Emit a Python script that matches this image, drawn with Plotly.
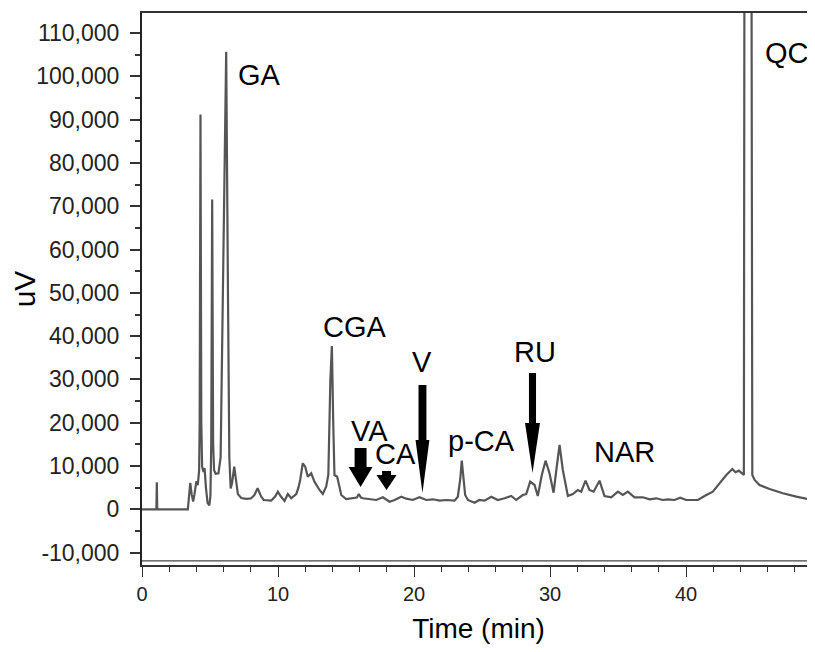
import plotly.graph_objects as go

# ---- chromatogram data (time in min, signal in uV) ----
time_min = [
    0.0, 1.06, 1.09, 1.12, 3.37, 3.45, 3.55, 3.65, 3.76, 3.86, 4.00, 4.10, 4.20,
    4.24, 4.30, 4.36, 4.42, 4.52, 4.60, 4.70, 4.82, 4.95, 5.03, 5.09, 5.16, 5.23,
    5.30, 5.42, 5.62, 5.78, 5.90, 6.19, 6.32, 6.42, 6.52, 6.62, 6.78, 6.90, 7.05,
    7.30, 7.66, 8.00, 8.25, 8.50, 8.75, 8.95, 9.50, 9.80, 9.99, 10.20, 10.48,
    10.72, 10.97, 11.34, 11.50, 11.63, 11.82, 12.00, 12.19, 12.44, 12.68, 13.05,
    13.29, 13.54, 13.70, 13.85, 13.96, 14.06, 14.15, 14.35, 14.50, 14.65, 15.01,
    15.50, 15.80, 15.94, 16.10, 16.24, 16.73, 17.22, 17.71, 18.20, 18.57, 19.06,
    19.43, 19.91, 20.40, 20.90, 21.38, 21.88, 22.37, 22.98, 23.22, 23.40, 23.51,
    23.62, 23.76, 23.96, 24.20, 24.45, 24.80, 25.18, 25.68, 26.16, 26.65, 27.15,
    27.51, 28.00, 28.25, 28.54, 28.86, 29.10, 29.40, 29.67, 29.96, 30.26, 30.50,
    30.70, 30.94, 31.31, 31.68, 32.04, 32.29, 32.61, 32.90, 33.20, 33.64, 34.00,
    34.50, 34.99, 35.35, 35.72, 36.21, 36.82, 37.32, 37.81, 38.29, 38.66, 39.15,
    39.57, 40.01, 40.87, 41.36, 41.97, 42.46, 42.96, 43.40, 43.64, 43.88, 44.18,
    44.25, 44.30, 44.55, 44.80, 44.87, 45.04, 45.40, 46.14, 47.12, 48.10, 49.50,
]
signal_uv = [
    0, 0, 6240, 0, 0, 3800, 6100, 3500, 1800, 3500, 6500, 5600, 9000,
    20000, 91220, 20000, 9840, 8600, 9500, 5000, 1500, 900, 3000, 15000, 71590, 15000,
    9000, 8200, 8300, 12000, 40000, 105680, 50000, 12000, 4800, 6000, 9840, 7000, 3500,
    2600, 2400, 2500, 3200, 4850, 3000, 2150, 2000, 3000, 4070, 3000, 1920,
    3530, 2540, 3530, 5000, 6770, 10630, 9840, 7530, 8320, 6380, 4460,
    3530, 5220, 8000, 30000, 37720, 20000, 7920, 7530, 5000, 3300, 2380,
    2540, 2700, 3530, 2700, 2540, 2310, 2150, 2770, 1760, 2150, 2910,
    2450, 2150, 2770, 2150, 2310, 1990, 2150, 1990, 2910, 7000, 11230,
    7000, 3300, 2150, 1760, 1530, 2150, 1990, 2910, 2150, 2540, 3070,
    2150, 3300, 3530, 6380, 5610, 3070, 8000, 11230, 8320, 3840, 10000,
    14850, 9080, 3070, 3530, 4460, 4070, 6610, 4460, 4070, 6610, 3070,
    2770, 4070, 3300, 4070, 2770, 2770, 2310, 2540, 2150, 2310, 2150,
    2680, 2150, 2150, 3070, 4070, 6000, 7920, 9310, 8550, 8920, 7920,
    7920, 150000, 300000, 150000, 7920, 6770, 5610, 4690, 3700, 2910, 1990,
]

# ---- peak labels ----
peak_labels = ["GA", "CGA", "VA", "CA", "V", "p-CA", "RU", "NAR", "QC"]
label_x = [8.64, 15.66, 16.73, 18.64, 20.62, 24.96, 28.90, 35.48, 47.43]
label_y = [100320, 42110, 18090, 12770, 34030, 15780, 36340, 13240, 105400]

# ---- arrows: centre (min), tip, neck, tail (uV), shaft/head half-width (min) ----
arrow_x = [16.07, 17.98, 20.62, 28.71]
arrow_tip = [5150, 4460, 3770, 8380]
arrow_neck = [9770, 7920, 16000, 19930]
arrow_tail = [14160, 8850, 28700, 31500]
arrow_shaft = [0.44, 0.33, 0.29, 0.26]
arrow_head = [0.88, 0.74, 0.51, 0.55]

# ---- axis ticks ----
x_ticks = [0, 10, 20, 30, 40]
y_ticks = [-10000, 0, 10000, 20000, 30000, 40000, 50000, 60000, 70000, 80000,
           90000, 100000, 110000]
y_ticktext = ["-10,000", "0", "10,000", "20,000", "30,000", "40,000", "50,000",
              "60,000", "70,000", "80,000", "90,000", "100,000", "110,000"]

FONT = "Liberation Sans, Arial, Helvetica, sans-serif"
NARROW = "Liberation Sans Narrow, Arial Narrow, Liberation Sans, Arial, sans-serif"

fig = go.Figure()
fig.add_trace(go.Scatter(
    x=time_min, y=signal_uv, mode="lines",
    line=dict(color="#555555", width=2.2),
    showlegend=False, hoverinfo="skip",
))

shapes = []
for x, tip, neck, tail, s, h in zip(arrow_x, arrow_tip, arrow_neck, arrow_tail,
                                     arrow_shaft, arrow_head):
    path = (f"M {x - s},{tail} L {x + s},{tail} L {x + s},{neck} L {x + h},{neck} "
            f"L {x},{tip} L {x - h},{neck} L {x - s},{neck} Z")
    shapes.append(dict(type="path", path=path, xref="x", yref="y",
                       fillcolor="black", line=dict(width=0)))

# second line of the doubled bottom border
shapes.append(dict(type="line", xref="paper", yref="y", x0=0, x1=1,
                   y0=-11940, y1=-11940, line=dict(color="#444", width=1.2)))

annotations = []
for txt, x, y in zip(peak_labels, label_x, label_y):
    annotations.append(dict(x=x, y=y, xref="x", yref="y", text=txt,
                            showarrow=False, font=dict(family=FONT, size=29,
                                                       color="black")))

# the page body has an 8px margin, so the figure is sized/offset to compensate
fig.update_layout(
    width=807, height=636,
    margin=dict(l=134, r=0, t=5, b=79),
    plot_bgcolor="white", paper_bgcolor="white",
    shapes=shapes, annotations=annotations,
    xaxis=dict(
        range=[0, 49.48], showgrid=False, zeroline=False,
        showline=True, linecolor="#333", linewidth=1.5, mirror=True,
        ticks="outside", ticklen=10, tickwidth=1.2, tickcolor="#333",
        tickvals=x_ticks, ticktext=[str(v) for v in x_ticks],
        tickfont=dict(family=NARROW, size=20, color="#222"),
        minor=dict(ticks="outside", ticklen=5, tickwidth=1.2, tickcolor="#333",
                   dtick=2, tick0=0, showgrid=False),
        title=dict(text="Time (min)", standoff=22,
                   font=dict(family=FONT, size=28, color="black")),
        automargin=False,
    ),
    yaxis=dict(
        range=[-12870, 114650], showgrid=False, zeroline=False,
        showline=True, linecolor="#222", linewidth=2,
        ticks="outside", ticklen=10, tickwidth=1.5, tickcolor="#333",
        tickvals=y_ticks, ticktext=y_ticktext, ticklabelstandoff=6,
        tickfont=dict(family=FONT, size=23, color="#222"),
        minor=dict(ticks="outside", ticklen=5, tickwidth=1.5, tickcolor="#333",
                   dtick=5000, tick0=0, showgrid=False),
        title=dict(text="uV", standoff=12,
                   font=dict(family=FONT, size=30, color="black")),
        automargin=False,
    ),
)

fig.write_html("out.html")
